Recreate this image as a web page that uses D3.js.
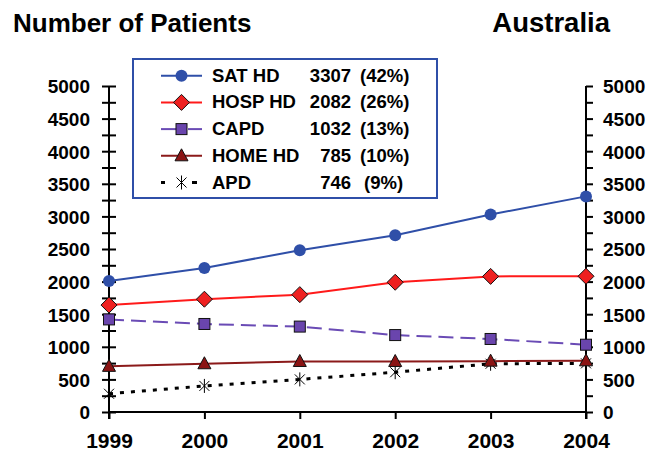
<!DOCTYPE html>
<html>
<head>
<meta charset="utf-8">
<script src="https://cdn.jsdelivr.net/npm/d3@7"></script>
<style>
  html, body { margin: 0; padding: 0; background: #fff; }
  svg text { font-family: "Liberation Sans", Arial, sans-serif; font-weight: bold; fill: #000; }
</style>
</head>
<body>
<svg id="chart" width="661" height="459"></svg>
<script>
// Patients by dialysis modality, Australia 1999-2004
const years = ["1999", "2000", "2001", "2002", "2003", "2004"];
const satHD  = [2010, 2210, 2480, 2710, 3030, 3307];
const hospHD = [1640, 1730, 1800, 1990, 2080, 2082];
const capd   = [1420, 1350, 1310, 1180, 1120, 1032];
const homeHD = [700, 740, 775, 775, 780, 785];
const apd    = [280, 400, 500, 610, 740, 746];
const yTicks = d3.range(0, 5001, 250);

const seriesNames = ["SAT HD", "HOSP HD", "CAPD", "HOME HD", "APD"];
const seriesTotals = ["3307", "2082", "1032", "785", "746"];
const seriesShares = ["(42%)", "(26%)", "(13%)", "(10%)", "(9%)"];

const series = [
  { values: satHD,  line: "#2f4fa8", fill: "#2f4fa8", marker: "circle",   dash: null },
  { values: hospHD, line: "#ff1a1a", fill: "#ee2020", marker: "diamond",  dash: null },
  { values: capd,   line: "#6a4bb5", fill: "#6a45ad", marker: "square",   dash: "15,7" },
  { values: homeHD, line: "#8b1a1a", fill: "#8b1414", marker: "triangle", dash: null },
  { values: apd,    line: "#000",    fill: "none",    marker: "star",     dash: "4,7" }
];

const svg = d3.select("#chart");
const x = d3.scalePoint().domain(years).range([109, 586]);
const y = d3.scaleLinear().domain([0, 5000]).range([412, 86]);

// Titles
svg.append("text").attr("x", 13).attr("y", 32).attr("font-size", 26).text("Number of Patients");
svg.append("text").attr("x", 610).attr("y", 32).attr("font-size", 27.5).attr("text-anchor", "end").text("Australia");

// Left axis: ticks cross the line
const leftAxis = d3.axisLeft(y).tickValues(yTicks).tickSize(7).tickPadding(10)
  .tickFormat(d => d % 500 === 0 ? d : "");
const gL = svg.append("g").attr("transform", `translate(${x("1999")},0)`).call(leftAxis);
gL.select(".domain").remove();
gL.selectAll(".tick line").attr("x1", 7).attr("x2", -7).attr("stroke", "#000").attr("stroke-width", 2);
gL.selectAll(".tick text").attr("font-size", 19).attr("x", -19).attr("dy", "0.36em");

// Right axis: outward ticks
const rightAxis = d3.axisRight(y).tickValues(yTicks).tickSize(7).tickPadding(10)
  .tickFormat(d => d % 500 === 0 ? d : "");
const gR = svg.append("g").attr("transform", `translate(${x("2004")},0)`).call(rightAxis);
gR.select(".domain").remove();
gR.selectAll(".tick line").attr("stroke", "#000").attr("stroke-width", 2);
gR.selectAll(".tick text").attr("font-size", 19).attr("x", 17).attr("dy", "0.36em");

// Bottom axis with category ticks
const bottomAxis = d3.axisBottom(x).tickSize(7).tickPadding(14);
const gB = svg.append("g").attr("transform", `translate(0,${y(0)})`).call(bottomAxis);
gB.select(".domain").remove();
gB.selectAll(".tick line").attr("stroke", "#000").attr("stroke-width", 2);
gB.selectAll(".tick text").attr("font-size", 21).attr("dy", "0.71em");

// Axis lines
svg.append("line").attr("x1", x("1999")).attr("x2", x("2004")).attr("y1", y(0)).attr("y2", y(0))
  .attr("stroke", "#000").attr("stroke-width", 2);
svg.append("line").attr("x1", x("1999")).attr("x2", x("1999")).attr("y1", y(5000)).attr("y2", y(0) + 7)
  .attr("stroke", "#000").attr("stroke-width", 2);
svg.append("line").attr("x1", x("2004")).attr("x2", x("2004")).attr("y1", y(5000)).attr("y2", y(0) + 7)
  .attr("stroke", "#000").attr("stroke-width", 2);

// Marker drawing
function drawMarker(g, type, fill, cx, cy) {
  if (type === "circle") {
    g.append("circle").attr("cx", cx).attr("cy", cy).attr("r", 6).attr("fill", fill);
  } else if (type === "diamond") {
    const s = 8;
    g.append("path").attr("d", `M${cx},${cy - s}L${cx + s},${cy}L${cx},${cy + s}L${cx - s},${cy}Z`)
      .attr("fill", fill).attr("stroke", "#111").attr("stroke-width", 1);
  } else if (type === "square") {
    g.append("rect").attr("x", cx - 5.5).attr("y", cy - 5.5).attr("width", 11).attr("height", 11)
      .attr("fill", fill).attr("stroke", "#111").attr("stroke-width", 1);
  } else if (type === "triangle") {
    g.append("path").attr("d", `M${cx},${cy - 7}L${cx + 6.5},${cy + 5}L${cx - 6.5},${cy + 5}Z`)
      .attr("fill", fill).attr("stroke", "#111").attr("stroke-width", 1);
  } else if (type === "star") {
    const r = 7, d = 5;
    g.append("path")
      .attr("d", `M${cx},${cy - r}L${cx},${cy + r}M${cx - d},${cy - d}L${cx + d},${cy + d}M${cx + d},${cy - d}L${cx - d},${cy + d}`)
      .attr("stroke", "#000").attr("stroke-width", 1).attr("fill", "none");
  }
}

// Lines and markers (drawn bottom series first)
const line = d3.line().x((d, i) => x(years[i])).y(d => y(d));
[...series].reverse().forEach(s => {
  const g = svg.append("g");
  g.append("path").datum(s.values).attr("d", line).attr("fill", "none")
    .attr("stroke", s.line).attr("stroke-width", s.marker === "star" ? 3 : 2)
    .attr("stroke-dasharray", s.dash);
  s.values.forEach((v, i) => drawMarker(g, s.marker, s.fill, x(years[i]), y(v)));
});

// Legend
const lg = svg.append("g");
lg.append("rect").attr("x", 133).attr("y", 59).attr("width", 304).attr("height", 139)
  .attr("fill", "#fff").attr("stroke", "#2f4fa8").attr("stroke-width", 2);
series.forEach((s, i) => {
  const cy = 75.7 + i * 26.7;
  if (s.marker === "star") {
    lg.append("rect").attr("x", 161).attr("y", cy - 1.5).attr("width", 4).attr("height", 3).attr("fill", "#000");
    lg.append("rect").attr("x", 192).attr("y", cy - 1.5).attr("width", 5).attr("height", 3).attr("fill", "#000");
  } else if (s.dash) {
    lg.append("line").attr("x1", 161).attr("x2", 176).attr("y1", cy).attr("y2", cy)
      .attr("stroke", s.line).attr("stroke-width", 2);
    lg.append("line").attr("x1", 188).attr("x2", 202).attr("y1", cy).attr("y2", cy)
      .attr("stroke", s.line).attr("stroke-width", 2);
  } else {
    lg.append("line").attr("x1", 161).attr("x2", 202).attr("y1", cy).attr("y2", cy)
      .attr("stroke", s.line).attr("stroke-width", 2);
  }
  drawMarker(lg, s.marker, s.fill, 181.5, cy);
  lg.append("text").attr("x", 212).attr("y", cy + 6).attr("font-size", 18.5).text(seriesNames[i]);
  lg.append("text").attr("x", 351).attr("y", cy + 6).attr("font-size", 18.5).attr("text-anchor", "end").text(seriesTotals[i]);
  lg.append("text").attr("x", i === 4 ? 364 : 360).attr("y", cy + 6).attr("font-size", 18.5).text(seriesShares[i]);
});
</script>
</body>
</html>
